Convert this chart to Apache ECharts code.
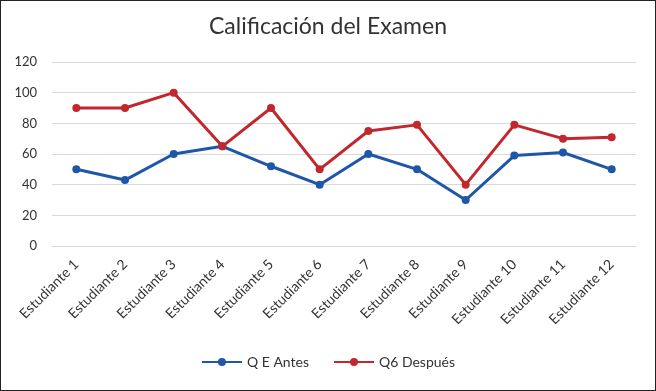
<!DOCTYPE html>
<html>
<head>
<meta charset="utf-8">
<script src="https://cdn.jsdelivr.net/npm/echarts@6/dist/echarts.min.js"></script>
<style>
  html, body { margin: 0; padding: 0; background: #fff; }
  #chart { width: 656px; height: 391px; box-sizing: border-box; border: 1px solid #222; }
</style>
</head>
<body>
<div id="chart"></div>
<script>
// chart data
const categories = ['Estudiante 1', 'Estudiante 2', 'Estudiante 3', 'Estudiante 4', 'Estudiante 5', 'Estudiante 6',
  'Estudiante 7', 'Estudiante 8', 'Estudiante 9', 'Estudiante 10', 'Estudiante 11', 'Estudiante 12']
const antes = [50, 43, 60, 65, 52, 40, 60, 50, 30, 59, 61, 50]
const despues = [90, 90, 100, 65, 90, 50, 75, 79, 40, 79, 70, 71]
const seriesNames = ['Q E Antes', 'Q6 Después']

const chart = echarts.init(document.getElementById('chart'))
const font = 'Lato, "Open Sans", sans-serif'

chart.setOption({
  animation: false,
  color: ['#1f56a8', '#c1272d'],
  title: {
    text: 'Calificación del Examen',
    left: 'center',
    top: 9,
    textStyle: { color: '#333', fontFamily: font, fontSize: 23, fontWeight: 'normal' }
  },
  legend: {
    bottom: 16,
    itemWidth: 40,
    itemHeight: 10,
    itemGap: 24,
    textStyle: { color: '#333', fontFamily: font, fontSize: 14 },
    data: seriesNames
  },
  grid: { left: 51, right: 19, top: 61, bottom: 144 },
  xAxis: {
    type: 'category',
    data: categories,
    boundaryGap: true,
    axisLine: { show: true, lineStyle: { color: '#d9d9d9' } },
    axisTick: { show: false },
    axisLabel: { rotate: 45, color: '#333', fontFamily: font, fontSize: 14, margin: 16 }
  },
  yAxis: {
    type: 'value',
    min: 0,
    max: 120,
    interval: 20,
    axisLine: { show: false },
    axisTick: { show: false },
    axisLabel: { color: '#333', fontFamily: font, fontSize: 13, margin: 15 },
    splitLine: { lineStyle: { color: '#d9d9d9' } }
  },
  series: [
    {
      name: seriesNames[0],
      type: 'line',
      data: antes,
      symbol: 'circle',
      symbolSize: 8,
      lineStyle: { width: 3 }
    },
    {
      name: seriesNames[1],
      type: 'line',
      data: despues,
      symbol: 'circle',
      symbolSize: 8,
      lineStyle: { width: 3 }
    }
  ]
})
</script>
</body>
</html>
